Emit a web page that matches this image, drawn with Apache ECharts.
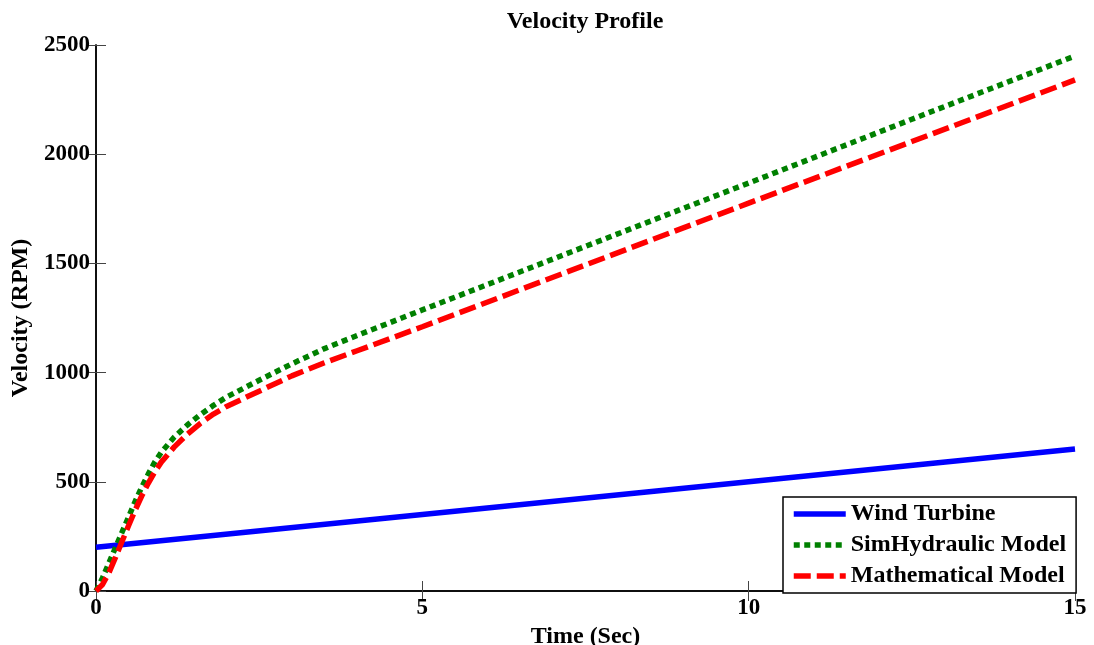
<!DOCTYPE html>
<html>
<head>
<meta charset="utf-8">
<script src="https://cdn.jsdelivr.net/npm/echarts@6/dist/echarts.min.js"></script>
<style>
  html, body { margin: 0; padding: 0; background: #fff; }
  #chart { width: 1094px; height: 645px; }
</style>
</head>
<body>
<div id="chart"></div>
<script>
// ---- Data ----
const titleText = "Velocity Profile";
const xAxisName = "Time (Sec)";
const yAxisName = "Velocity (RPM)";
const seriesNames = ["Wind Turbine", "SimHydraulic Model", "Mathematical Model"];

const xTicks = [0, 5, 10, 15];
const yTicks = [0, 500, 1000, 1500, 2000, 2500];

const windTime = [0, 5, 10, 15];
const windVel  = [200, 350, 500, 650];

const simTime = [0, 0.1, 0.2, 0.3, 0.4, 0.5, 0.6, 0.7, 0.8, 0.9, 1.0, 1.2, 1.4, 1.6, 1.8, 2.0, 2.5, 3.0, 3.5, 4.0, 5, 7.5, 10, 12.5, 15];
const simVel  = [0, 60, 130, 200, 270, 340, 410, 475, 535, 590, 635, 705, 760, 808, 850, 888, 965, 1040, 1110, 1170, 1287, 1578, 1868, 2160, 2450];

const mathTime = [0, 0.1, 0.2, 0.3, 0.4, 0.5, 0.6, 0.7, 0.8, 0.9, 1.0, 1.2, 1.4, 1.6, 1.8, 2.0, 2.5, 3.0, 3.5, 4.0, 5, 7.5, 10, 12.5, 15];
const mathVel  = [0, 30, 85, 155, 228, 300, 370, 435, 493, 545, 590, 660, 718, 768, 810, 845, 915, 985, 1045, 1100, 1210, 1493, 1776, 2058, 2340];

// ---- Chart ----
const FONT = "'Liberation Serif', 'Times New Roman', serif";
const pairs = (xs, ys) => xs.map((x, i) => [x, ys[i]]);

const xMin = xTicks[0], xMax = xTicks[xTicks.length - 1], xInt = xTicks[1] - xTicks[0];
const yMin = yTicks[0], yMax = yTicks[yTicks.length - 1], yInt = yTicks[1] - yTicks[0];

const colors = ['#0000ff', '#008000', '#ff0000'];
const dashes = ['solid', [6, 4.5], [17, 6]];
const LW = 5.5;

const tickStyle = { show: true, inside: true, length: 10, lineStyle: { color: '#444', width: 1 } };
const axisLine = { show: true, lineStyle: { color: '#000', width: 1.5 } };
const tickFont = { fontFamily: FONT, fontWeight: 'bold', fontSize: 23, color: '#000' };
const nameFont = { fontFamily: FONT, fontWeight: 'bold', fontSize: 24, color: '#000' };

const chart = echarts.init(document.getElementById('chart'), null, { renderer: 'canvas' });
chart.setOption({
  backgroundColor: '#fff',
  animation: false,
  title: {
    text: titleText,
    left: 585,
    textAlign: 'center',
    top: 10,
    padding: 0,
    textStyle: { fontFamily: FONT, fontWeight: 'bold', fontSize: 24, color: '#000' }
  },
  grid: { left: 96, right: 19, top: 45, bottom: 54, containLabel: false, outerBoundsMode: 'none' },
  legend: {
    orient: 'vertical',
    left: 783,
    top: 497,
    padding: [5, 10, 5, 8],
    itemGap: 7,
    itemWidth: 52,
    itemHeight: 14,
    borderColor: '#000',
    borderWidth: 1.5,
    borderRadius: 0,
    backgroundColor: '#fff',
    itemStyle: { opacity: 0 },
    textStyle: { fontFamily: FONT, fontWeight: 'bold', fontSize: 24, color: '#000' },
    data: seriesNames.map((n, i) => ({
      name: n,
      itemStyle: { opacity: 0 },
      lineStyle: { color: colors[i], width: LW, type: dashes[i], cap: 'butt' }
    }))
  },
  xAxis: [
    {
      type: 'value', min: xMin, max: xMax, interval: xInt,
      name: xAxisName, nameLocation: 'middle', nameGap: 29,
      nameTextStyle: nameFont,
      axisLine: axisLine, axisTick: tickStyle,
      axisLabel: Object.assign({ margin: 6, formatter: v => String(v) }, tickFont),
      splitLine: { show: false }
    },
    {
      type: 'value', position: 'top', min: xMin, max: xMax, interval: xInt,
      axisLine: axisLine, axisTick: tickStyle,
      axisLabel: { show: false }, splitLine: { show: false }
    }
  ],
  yAxis: [
    {
      type: 'value', min: yMin, max: yMax, interval: yInt,
      name: yAxisName, nameLocation: 'middle', nameGap: 63, nameRotate: 90,
      nameTextStyle: nameFont,
      axisLine: axisLine, axisTick: tickStyle,
      axisLabel: Object.assign({ margin: 6, formatter: v => String(v) }, tickFont),
      splitLine: { show: false }
    },
    {
      type: 'value', position: 'right', min: yMin, max: yMax, interval: yInt,
      axisLine: axisLine, axisTick: tickStyle,
      axisLabel: { show: false }, splitLine: { show: false }
    }
  ],
  series: [
    {
      name: seriesNames[0], type: 'line', symbol: 'none', smooth: false,
      data: pairs(windTime, windVel),
      lineStyle: { color: colors[0], width: LW, type: dashes[0] },
      itemStyle: { color: colors[0] }, z: 2
    },
    {
      name: seriesNames[1], type: 'line', symbol: 'none', smooth: false,
      data: pairs(simTime, simVel),
      lineStyle: { color: colors[1], width: LW, type: dashes[1], cap: 'butt' },
      itemStyle: { color: colors[1] }, z: 3
    },
    {
      name: seriesNames[2], type: 'line', symbol: 'none', smooth: false,
      data: pairs(mathTime, mathVel),
      lineStyle: { color: colors[2], width: LW, type: dashes[2], cap: 'butt' },
      itemStyle: { color: colors[2] }, z: 4
    }
  ]
});
</script>
</body>
</html>
